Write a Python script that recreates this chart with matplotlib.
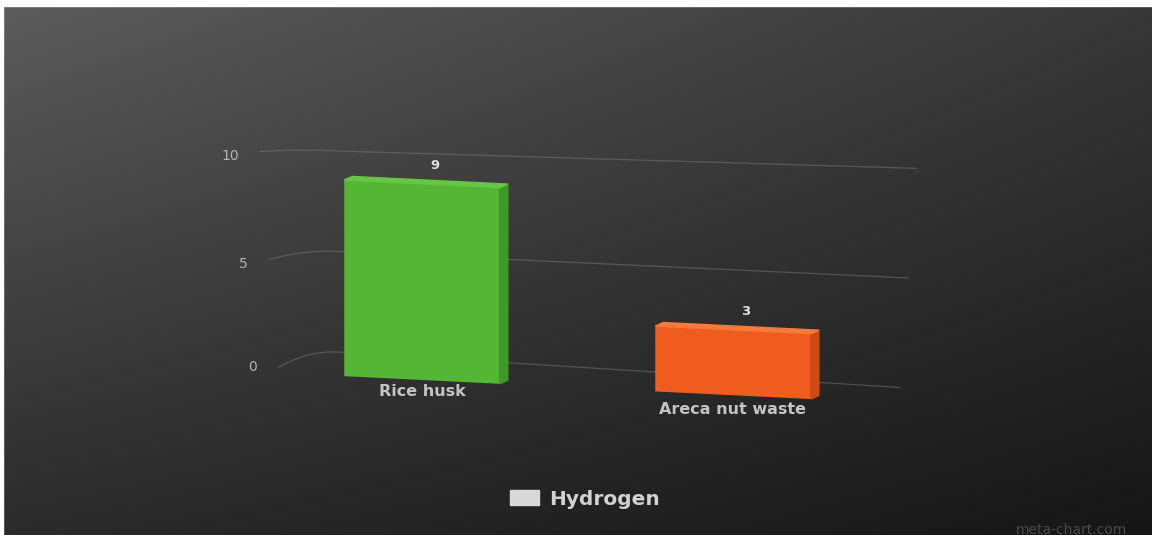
import numpy as np
import matplotlib.pyplot as plt
import matplotlib.transforms as mtransforms
from matplotlib.patches import Polygon, Patch, Rectangle

# ---------------------------------------
# ---------------- DATA -----------------
# ---------------------------------------
categories = ['Rice husk', 'Areca nut waste']
hydrogen = [9, 3]
bar_colors = ['#54b634', '#f05b1e']
top_colors = ['#66c646', '#f67a3c']
side_colors = ['#3e9a26', '#cf4a14']
ticks = [0, 5, 10]
series_name = 'Hydrogen'

# ---------------------------------------
# -------------- LAYOUT -----------------
# ---------------------------------------
W, H = 1152, 535
X0_PIX, X_STEP = 422, 311        # pixel of category 0, pixels per category
Y0_PIX, Y_SCALE = 380, 21.8      # pixel of value 0 at category 0, pixels per unit
K = 0.7                          # perspective skew (value units per category)
BAR_W = 0.5
DEPTH_DX, DEPTH_DY = 0.026, 0.18

fig = plt.figure(figsize=(W / 100, H / 100), dpi=100)

# background gradient
bg = fig.add_axes([0, 0, 1, 1])
tl, tr = np.array([0x5c] * 3), np.array([0x38] * 3)
bl, br = np.array([0x2b] * 3), np.array([0x16] * 3)
u = np.linspace(0, 1, 200)[None, :, None]
v = np.linspace(0, 1, 100)[:, None, None]
grad = (tl * (1 - u) * (1 - v) + tr * u * (1 - v) + bl * (1 - u) * v + br * u * v) / 255
bg.imshow(grad, aspect='auto', extent=[0, 1, 0, 1], interpolation='bilinear')
bg.set_xlim(0, 1)
bg.set_ylim(0, 1)
bg.axis('off')

ax = fig.add_axes([0, 0, 1, 1])
ax.patch.set_alpha(0)
ax.set_xlim(-X0_PIX / X_STEP, (W - X0_PIX) / X_STEP)
ax.set_ylim((Y0_PIX - H) / Y_SCALE, Y0_PIX / Y_SCALE)
ax.axis('off')
skew = mtransforms.Affine2D(np.array([[1, 0, 0], [-K, 1, 0], [0, 0, 1]])) + ax.transData

# back wall grid lines (slight perspective between left and right ends)
x_join, x_right0, x_right10 = -0.27, 1.537, 1.59
for t in ticks:
    y_left = 1.095 + 0.922 * t
    y_right = 0.732 + 1.009 * t
    x_right = x_right0 + (x_right10 - x_right0) * t / 10
    x_start = -0.463 - 0.0057 * t
    drop = 0.85 - 0.065 * t
    s = np.linspace(0, 1, 20)
    cx = x_start + (x_join - x_start) * s
    cy = y_left - drop * (1 - s) ** 2
    xs = np.concatenate([cx, [x_right]])
    ys = np.concatenate([cy, [y_right]])
    ax.plot(xs, ys, color='#7a7a7a', alpha=0.5, lw=0.9, transform=skew)
    ax.text(x_start - 0.068, y_left - drop - (0.23 if t > 0 else 0), str(t),
            ha='right', va='center', color='#b4b4b4', fontsize=10, transform=skew)

# bars with fake 3D faces
x = np.arange(len(categories))
ax.bar(x, hydrogen, width=BAR_W, color=bar_colors, transform=skew, zorder=3)
for i, val in enumerate(hydrogen):
    x1, x2 = x[i] - BAR_W / 2, x[i] + BAR_W / 2
    side = [(x2, 0), (x2 + DEPTH_DX, DEPTH_DY), (x2 + DEPTH_DX, val + DEPTH_DY), (x2, val)]
    top = [(x1, val), (x1 + DEPTH_DX, val + DEPTH_DY), (x2 + DEPTH_DX, val + DEPTH_DY), (x2, val)]
    ax.add_patch(Polygon(side, closed=True, color=side_colors[i], transform=skew, zorder=3))
    ax.add_patch(Polygon(top, closed=True, color=top_colors[i], transform=skew, zorder=3))
    ax.text(x[i] + 0.04, val + 0.85, str(val), ha='center', va='center',
            color='#e2e2e2', fontsize=9.5, fontweight='bold', transform=skew, zorder=4)
    ax.text(x[i], -0.55 - 0.1 * i, categories[i], ha='center', va='center',
            color='#c4c4c4', fontsize=11.5, fontweight='bold', transform=skew, zorder=4)

fig.legend(handles=[Patch(color='#d9d9d9', label=series_name)], loc='center',
           bbox_to_anchor=(0.508, 0.067), frameon=False, labelcolor='#d2d2d2',
           prop={'size': 14.5, 'weight': 'bold'}, handlelength=1.45, handleheight=0.75,
           handletextpad=0.5)

fig.text(0.93, 0.01, 'meta-chart.com', ha='center', va='center', color='#4a4a4a',
         fontsize=10)

# white strips at the edges of the screenshot
fig.add_artist(Rectangle((0, 1 - 6 / H), 1, 6 / H, transform=fig.transFigure,
                         color='white', zorder=10))
fig.add_artist(Rectangle((0, 0), 3 / W, 1, transform=fig.transFigure,
                         color='white', zorder=10))

fig.savefig('out.png', dpi=100)
